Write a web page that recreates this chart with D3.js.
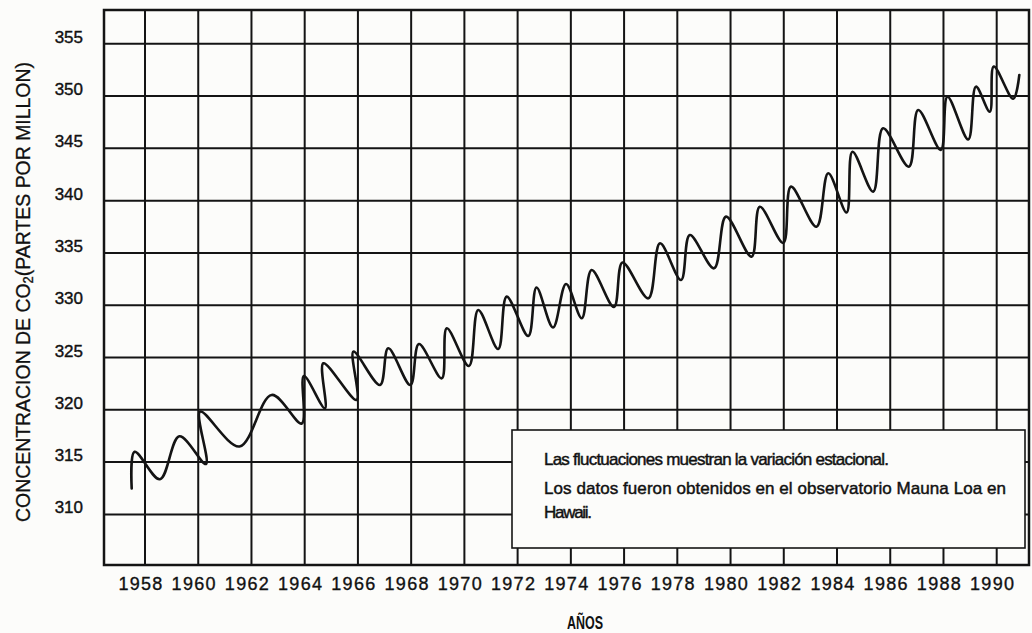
<!DOCTYPE html>
<html>
<head>
<meta charset="utf-8">
<script src="https://cdn.jsdelivr.net/npm/d3@7"></script>
<style>
  html, body { margin: 0; padding: 0; background: #fcfcfa; }
  svg { display: block; }
  text { font-family: "Liberation Sans", Arial, Helvetica, sans-serif; fill: #111; }
</style>
</head>
<body>
<svg id="chart" width="1032" height="633"></svg>
<script>
// ---- data ----
const yearTicks = [1958, 1960, 1962, 1964, 1966, 1968, 1970, 1972, 1974, 1976, 1978, 1980, 1982, 1984, 1986, 1988, 1990];
const ppmTicks = [310, 315, 320, 325, 330, 335, 340, 345, 350, 355];
// turning points of the hand-drawn seasonal curve (decimal year, ppm)
const years = [1957.50, 1957.61, 1958.56, 1959.29, 1960.29, 1960.07, 1961.55, 1962.76, 1963.89, 1963.97,
  1964.76, 1964.70, 1965.95, 1965.83, 1966.83, 1967.14, 1967.97, 1968.29, 1969.15, 1969.34,
  1970.17, 1970.52, 1971.27, 1971.59, 1972.40, 1972.71, 1973.33, 1973.82, 1974.41, 1974.78,
  1975.62, 1975.94, 1976.91, 1977.35, 1978.14, 1978.47, 1979.38, 1979.83, 1980.79, 1981.10,
  1981.98, 1982.27, 1983.23, 1983.67, 1984.36, 1984.58, 1985.36, 1985.73, 1986.70, 1987.05,
  1987.90, 1988.15, 1988.93, 1989.22, 1989.74, 1989.89, 1990.62, 1990.85];
const ppm = [312.49, 315.99, 313.36, 317.47, 314.82, 319.82, 316.49, 321.42, 318.69, 323.23,
  320.14, 324.45, 320.94, 325.56, 322.37, 325.88, 322.37, 326.29, 323.01, 327.80,
  324.19, 329.55, 325.82, 330.82, 327.06, 331.70, 327.87, 332.03, 328.75, 333.37,
  329.83, 334.09, 330.66, 335.92, 332.41, 336.72, 333.53, 338.47, 334.64, 339.42,
  335.95, 341.34, 337.51, 342.62, 338.87, 344.68, 340.86, 346.92, 343.25, 348.67,
  344.85, 349.94, 345.85, 350.90, 348.51, 352.83, 349.74, 352.02];
const yTitleMain = "CONCENTRACION DE CO";
const yTitleSub = "2";
const yTitleEnd = "(PARTES POR MILLON)";
const xTitle = "AÑOS";
const noteLines = [
  "Las fluctuaciones muestran la variación estacional.",
  "Los datos fueron obtenidos en el observatorio Mauna Loa en",
  "Hawaii."
];

// ---- layout ----
const frame = { left: 104, top: 10, right: 1029, bottom: 565 };
const svg = d3.select("#chart");

const x = d3.scaleLinear().domain([1958, 1990]).range([145, 996.7]);
const y = d3.scaleLinear().domain([305.16, 358.23]).range([frame.bottom, frame.top]);

const ink = "#141414";

// grid: horizontal
svg.append("g").selectAll("line").data(ppmTicks).join("line")
  .attr("x1", frame.left).attr("x2", frame.right)
  .attr("y1", d => y(d)).attr("y2", d => y(d))
  .attr("stroke", ink).attr("stroke-width", 2);

// grid: vertical
svg.append("g").selectAll("line").data(yearTicks).join("line")
  .attr("x1", d => x(d)).attr("x2", d => x(d))
  .attr("y1", frame.top).attr("y2", frame.bottom)
  .attr("stroke", ink).attr("stroke-width", 2);

// frame
svg.append("rect")
  .attr("x", frame.left).attr("y", frame.top)
  .attr("width", frame.right - frame.left).attr("height", frame.bottom - frame.top)
  .attr("fill", "none").attr("stroke", ink).attr("stroke-width", 2.5);

// curve
const pts = years.map((yr, i) => ({ yr, v: ppm[i] }));
const line = d3.line()
  .x(d => x(d.yr)).y(d => y(d.v))
  .curve(d3.curveCatmullRom.alpha(0.5));
svg.append("path").datum(pts)
  .attr("d", line)
  .attr("fill", "none").attr("stroke", ink)
  .attr("stroke-width", 2.6).attr("stroke-linecap", "round").attr("stroke-linejoin", "round");

// annotation box
const box = { x: 512, y: 430, w: 513, h: 118 };
svg.append("rect")
  .attr("x", box.x).attr("y", box.y).attr("width", box.w).attr("height", box.h)
  .attr("fill", "#fcfcfa").attr("stroke", ink).attr("stroke-width", 1.6);
const noteBase = [465, 494, 518];
const noteLen = [345, 462, 48];
svg.append("g").selectAll("text").data(noteLines).join("text")
  .attr("x", 544).attr("y", (d, i) => noteBase[i])
  .attr("font-size", 17)
  .attr("textLength", (d, i) => noteLen[i])
  .attr("lengthAdjust", "spacing")
  .attr("stroke", "#111").attr("stroke-width", 0.45)
  .text(d => d);

// y tick labels
svg.append("g").selectAll("text").data(ppmTicks).join("text")
  .attr("x", 83).attr("y", d => y(d) - 1)
  .attr("text-anchor", "end")
  .attr("font-size", 17)
  .attr("stroke", "#111").attr("stroke-width", 0.4)
  .text(d => d);

// x tick labels
svg.append("g").selectAll("text").data(yearTicks).join("text")
  .attr("x", d => x(d) - 4).attr("y", 590)
  .attr("text-anchor", "middle")
  .attr("font-size", 18)
  .attr("letter-spacing", 1.3)
  .attr("stroke", "#111").attr("stroke-width", 0.35)
  .text(d => d);

// x title
svg.append("text")
  .attr("x", 585).attr("y", 629)
  .attr("text-anchor", "middle")
  .attr("font-size", 18).attr("font-weight", "bold")
  .attr("textLength", 36).attr("lengthAdjust", "spacingAndGlyphs")
  .text(xTitle);

// y title
const yt = svg.append("text")
  .attr("transform", "translate(30,292) rotate(-90)")
  .attr("text-anchor", "middle")
  .attr("font-size", 21)
  .attr("textLength", 460).attr("lengthAdjust", "spacingAndGlyphs")
  .attr("stroke", "#111").attr("stroke-width", 0.3);
yt.append("tspan").text(yTitleMain);
yt.append("tspan").attr("font-size", 14).attr("dy", 3).text(yTitleSub);
yt.append("tspan").attr("dy", -3).text(yTitleEnd);
</script>
</body>
</html>
